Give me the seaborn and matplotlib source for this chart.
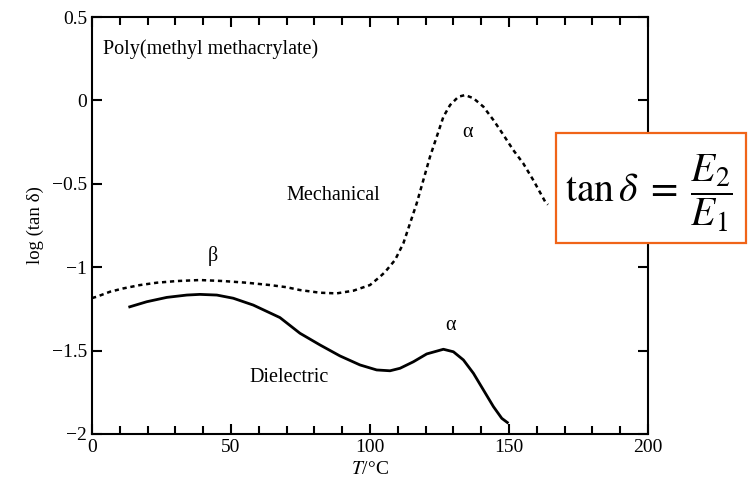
import numpy as np
import pandas as pd
import seaborn as sns
import matplotlib.pyplot as plt
from matplotlib.patches import Rectangle
from matplotlib.ticker import MultipleLocator

sns.set_theme(style="ticks")
plt.rcParams['font.family'] = ['Liberation Serif', 'DejaVu Serif']
plt.rcParams['mathtext.fontset'] = 'stix'
plt.rcParams['text.color'] = 'black'
plt.rcParams['axes.labelcolor'] = 'black'

# Mechanical (dotted) data
mech_T = [0, 1.7, 6.5, 11.3, 17.3, 23.3, 30.5, 38.8, 47.2, 55.6, 64, 70, 74.8, 82, 88, 94, 100,
          103.6, 105.4, 109, 112, 114.4, 116.8, 119.2, 121.6, 124, 126.4, 128.8, 131.8, 134.2,
          137.2, 140.8, 144.4, 148, 151.5, 155.1, 158.7, 163, 164]
mech_y = [-1.185, -1.177, -1.147, -1.127, -1.107, -1.093, -1.083, -1.077, -1.083, -1.093, -1.107,
          -1.12, -1.137, -1.153, -1.157, -1.141, -1.107, -1.057, -1.029, -0.957, -0.857, -0.737,
          -0.617, -0.477, -0.337, -0.218, -0.098, -0.028, 0.022, 0.032, 0.013, -0.038, -0.118,
          -0.207, -0.297, -0.377, -0.477, -0.607, -0.625]

# Dielectric (solid) data
diel_T = [13.1, 19.7, 26.9, 34.1, 38.8, 44.9, 50.8, 58, 67.6, 74.8, 82, 89.2, 96.4, 102.4, 107.2,
          110.8, 115.6, 120.4, 126.4, 130, 133.6, 137.2, 140.8, 144.4, 147.4, 149.8]
diel_y = [-1.24, -1.207, -1.181, -1.167, -1.163, -1.167, -1.186, -1.227, -1.302, -1.396, -1.466,
          -1.532, -1.586, -1.616, -1.621, -1.606, -1.567, -1.52, -1.492, -1.507, -1.556, -1.636,
          -1.736, -1.836, -1.906, -1.936]

x_ticks = [0, 50, 100, 150, 200]
y_ticks = [-2, -1.5, -1, -0.5, 0, 0.5]
y_ticklabels = ['\u22122', '\u22121.5', '\u22121', '\u22120.5', '0', '0.5']

mech = pd.DataFrame({'T': mech_T, 'y': mech_y})
diel = pd.DataFrame({'T': diel_T, 'y': diel_y})

fig = plt.figure(figsize=(7.48, 4.88), dpi=100)
ax = fig.add_axes([92/748, 1-434/488, (648-92)/748, (434-17)/488])

sns.lineplot(data=mech, x='T', y='y', ax=ax, color='black', lw=1.8,
             linestyle=(0, (1.7, 1.5)), dash_capstyle='butt', dash_joinstyle='round')
sns.lineplot(data=diel, x='T', y='y', ax=ax, color='black', lw=2.0,
             solid_joinstyle='round', solid_capstyle='butt')

ax.set_xlim(0, 200)
ax.set_ylim(-2, 0.5)
ax.set_xticks(x_ticks)
ax.xaxis.set_minor_locator(MultipleLocator(10))
ax.set_yticks(y_ticks)
ax.set_yticklabels(y_ticklabels)
ax.tick_params(axis='both', which='both', direction='in', top=True, right=True,
               labelsize=14, colors='black', width=1.5)
ax.tick_params(axis='both', which='major', length=7)
ax.tick_params(axis='both', which='minor', length=6)
for s in ax.spines.values():
    s.set_linewidth(1.5)
    s.set_color('black')

ax.set_xlabel(r'$\it{T}$/°C', fontsize=14, labelpad=4)
ax.set_ylabel('log (tan δ)', fontsize=13.5, labelpad=6)

fs = 14.5
ax.text(3.8, 0.31, 'Poly(methyl methacrylate)', fontsize=fs, ha='left', va='center')
ax.text(86.7, -0.573, 'Mechanical', fontsize=fs, ha='center', va='center')
ax.text(43.5, -0.93, 'β', fontsize=fs, ha='center', va='center')
ax.text(135, -0.195, 'α', fontsize=fs, ha='center', va='center')
ax.text(129, -1.35, 'α', fontsize=fs, ha='center', va='center')
ax.text(71, -1.66, 'Dielectric', fontsize=fs, ha='center', va='center')

rect = Rectangle((556/748, 1-243/488), 190/748, 110/488, transform=fig.transFigure,
                 facecolor='white', edgecolor='#F06418', lw=1.6, zorder=10)
fig.patches.append(rect)
fig.text(649/748, 1-193/488, r'$\mathrm{tan}\,\delta\;=\;\dfrac{E_2}{E_1}$', fontsize=28.5,
         ha='center', va='center', zorder=11)

fig.savefig('out.png', dpi=100)
